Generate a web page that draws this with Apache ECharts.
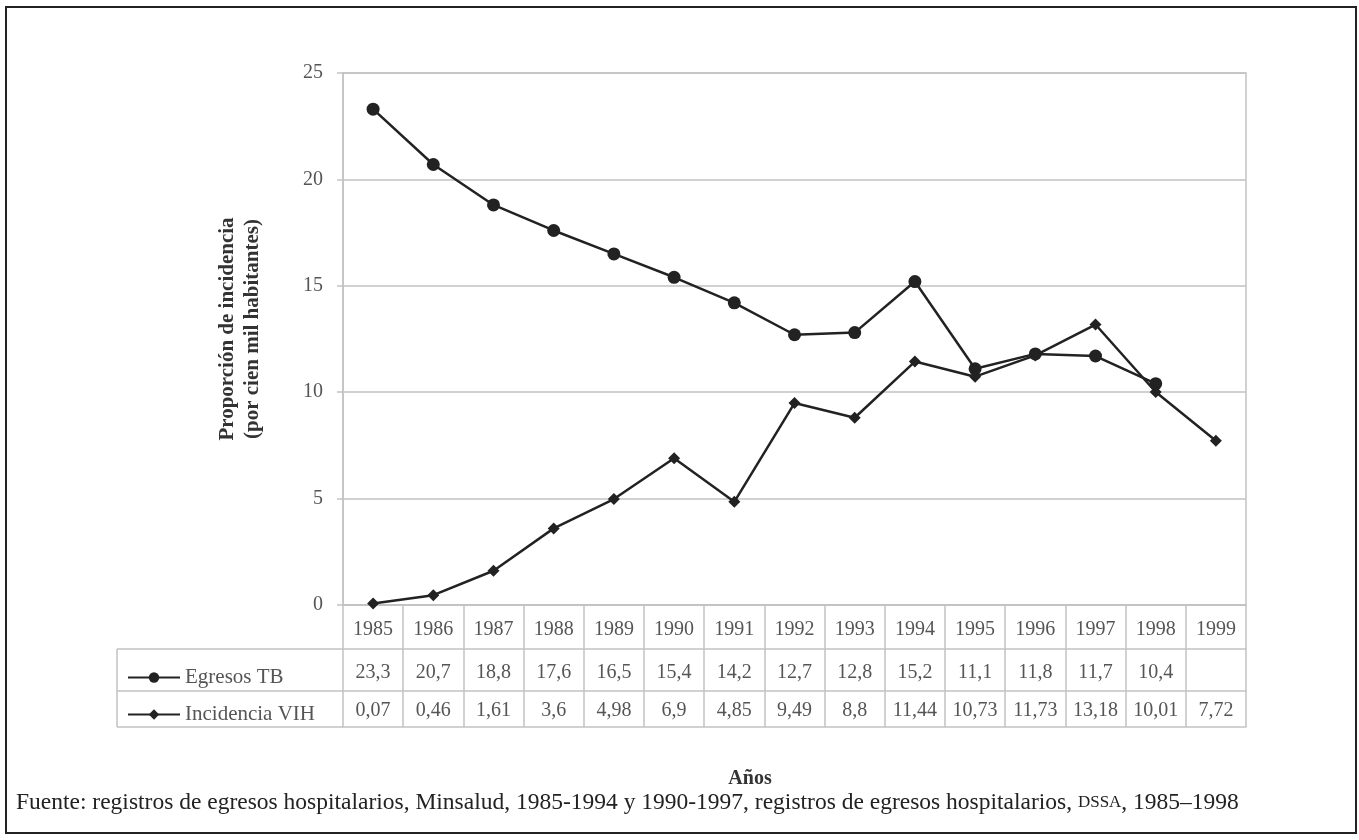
<!DOCTYPE html>
<html>
<head>
<meta charset="utf-8">
<script src="https://cdn.jsdelivr.net/npm/echarts@6/dist/echarts.min.js"></script>
<style>
  html, body { margin: 0; padding: 0; background: #fff; }
  #main { width: 1359px; height: 840px; }
</style>
</head>
<body>
<div id="main"></div>
<script>
var myChart = echarts.init(document.getElementById('main'));

var years = ['1985', '1986', '1987', '1988', '1989', '1990', '1991', '1992',
    '1993', '1994', '1995', '1996', '1997', '1998', '1999'];
var egresosTB = [23.3, 20.7, 18.8, 17.6, 16.5, 15.4, 14.2, 12.7, 12.8, 15.2,
    11.1, 11.8, 11.7, 10.4, null];
var incidenciaVIH = [0.07, 0.46, 1.61, 3.6, 4.98, 6.9, 4.85, 9.49, 8.8, 11.44,
    10.73, 11.73, 13.18, 10.01, 7.72];
var yTicks = [0, 5, 10, 15, 20, 25];

var serif = 'Liberation Serif';
var gray = '#555';
var lineGray = '#c2c2c2';

function fmt(v) {
    return v == null ? '' : String(v).replace('.', ',');
}

// one x axis per table row, stacked under the plot with offset
function rowAxis(data, offset, tickLen, labelMargin) {
    return {
        type: 'category',
        data: data,
        position: 'bottom',
        offset: offset,
        boundaryGap: true,
        axisLine: { show: true, lineStyle: { color: lineGray, width: 1.5 } },
        axisTick: {
            show: tickLen > 0,
            interval: 0,
            length: tickLen,
            lineStyle: { color: lineGray, width: 1.5 }
        },
        axisLabel: {
            show: labelMargin != null,
            interval: 0,
            margin: labelMargin || 0,
            color: gray,
            fontFamily: serif,
            fontSize: 20
        },
        splitLine: { show: false }
    };
}

option = {
    backgroundColor: '#fff',
    animation: false,
    grid: {
        left: 343,
        right: 113,
        top: 73,
        bottom: 235,
        show: true,
        borderColor: lineGray,
        borderWidth: 1.5
    },
    title: [{
        text: 'Años',
        left: 745,
        top: 764,
        textAlign: 'center',
        textStyle: { fontFamily: serif, fontSize: 20, fontWeight: 'bold', color: '#333' }
    }, {
        text: 'Fuente: registros de egresos hospitalarios, Minsalud, 1985-1994 y 1990-1997, registros de egresos hospitalarios, {sc|DSSA}, 1985–1998',
        left: 11,
        top: 786,
        textStyle: {
            fontFamily: serif, fontSize: 23.5, fontWeight: 'normal', color: '#222',
            rich: { sc: { fontFamily: serif, fontSize: 17, color: '#222' } }
        }
    }],
    legend: {
        orient: 'vertical',
        left: 122,
        top: 662,
        itemWidth: 52,
        itemHeight: 13,
        itemGap: 16,
        data: ['Egresos TB', 'Incidencia VIH'],
        textStyle: { fontFamily: serif, fontSize: 21, color: gray }
    },
    graphic: [
        { type: 'rect', shape: { x: 6, y: 7, width: 1350, height: 826 },
          style: { fill: 'none', stroke: '#222', lineWidth: 2 } },
        { type: 'line', shape: { x1: 117, y1: 649, x2: 343, y2: 649 },
          style: { stroke: lineGray, lineWidth: 1.5 } },
        { type: 'line', shape: { x1: 117, y1: 691, x2: 343, y2: 691 },
          style: { stroke: lineGray, lineWidth: 1.5 } },
        { type: 'line', shape: { x1: 117, y1: 727, x2: 343, y2: 727 },
          style: { stroke: lineGray, lineWidth: 1.5 } },
        { type: 'line', shape: { x1: 117, y1: 649, x2: 117, y2: 727 },
          style: { stroke: lineGray, lineWidth: 1.5 } }
    ],
    xAxis: [
        rowAxis(years, 0, 44, 15),
        rowAxis(egresosTB.map(fmt), 44, 42, 14),
        rowAxis(incidenciaVIH.map(fmt), 86, 36, 10),
        rowAxis(years, 122, 0, null)
    ],
    yAxis: {
        type: 'value',
        min: yTicks[0],
        max: yTicks[yTicks.length - 1],
        interval: 5,
        name: 'Proporción de incidencia\n(por cien mil habitantes)',
        nameLocation: 'middle',
        nameRotate: 90,
        nameGap: 78,
        nameTextStyle: {
            fontFamily: serif, fontSize: 21, fontWeight: 'bold', color: '#333',
            lineHeight: 25, padding: [0, 0, 0, 20]
        },
        axisLine: { show: true, lineStyle: { color: lineGray, width: 1.5 } },
        axisTick: { show: true, length: 6, lineStyle: { color: lineGray, width: 1.5 } },
        axisLabel: { margin: 20, color: gray, fontFamily: serif, fontSize: 20 },
        splitLine: { show: true, lineStyle: { color: lineGray, width: 1.5 } }
    },
    series: [{
        name: 'Egresos TB',
        type: 'line',
        xAxisIndex: 0,
        data: egresosTB,
        symbol: 'circle',
        symbolSize: 13,
        lineStyle: { color: '#222', width: 2.5 },
        itemStyle: { color: '#222' }
    }, {
        name: 'Incidencia VIH',
        type: 'line',
        xAxisIndex: 0,
        data: incidenciaVIH,
        symbol: 'diamond',
        symbolSize: 12,
        lineStyle: { color: '#222', width: 2.5 },
        itemStyle: { color: '#222' }
    }]
};

myChart.setOption(option);
</script>
</body>
</html>
